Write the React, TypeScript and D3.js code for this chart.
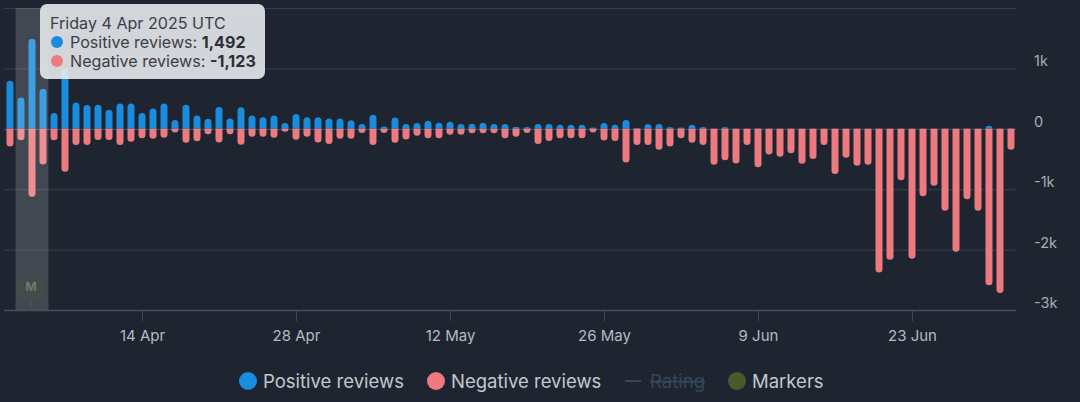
import { useEffect, useRef } from "react";
import * as d3 from "d3";

const startDate = "2025-04-02";

// one value per day, 2 Apr to 2 Jul 2025
const positiveReviews = [
  795, 520, 1492, 665, 260, 1000, 436, 392, 400, 315, 420, 420, 260, 337, 420, 145, 400, 220, 165, 360,
  170, 355, 220, 190, 220, 95, 245, 190, 190, 170, 170, 140, 80, 232, 40, 188, 78, 95, 133, 100,
  116, 78, 85, 100, 78, 78, 33, 30, 78, 78, 65, 65, 65, 20, 95, 65, 145, 15, 78, 78,
  30, 20, 65, 30, 5, 30, 5, 5, 10, 5, 5, 5, 5, 5, 5, 5, 5, 5, 5, 5,
  5, 5, 5, 5, 5, 5, 5, 5, 5, 50, 5, 10,
];
const negativeReviews = [
  -293, -190, -1123, -590, -190, -710, -270, -270, -185, -185, -270, -215, -155, -165, -150, -60, -230, -205, -90, -225,
  -90, -265, -130, -130, -150, -50, -180, -130, -225, -250, -165, -165, -70, -270, -70, -232, -177, -116, -155, -155,
  -100, -100, -75, -75, -75, -155, -133, -70, -253, -200, -155, -155, -155, -60, -193, -200, -558, -270, -270, -348,
  -293, -155, -232, -270, -596, -519, -574, -270, -635, -425, -464, -403, -580, -502, -270, -750, -480, -613, -596, -2380,
  -2170, -850, -2152, -1115, -944, -1358, -2036, -1165, -1358, -2590, -2720, -348,
];

const yTicks = [1000, 0, -1000, -2000, -3000];
const gridValues = [2000, 1000, 0, -1000, -2000];
const xTickDates = ["2025-04-14", "2025-04-28", "2025-05-12", "2025-05-26", "2025-06-09", "2025-06-23"];
const hoveredDate = "2025-04-04";
const tooltipTitle = "Friday 4 Apr 2025 UTC";
const tooltipRows = [
  { label: "Positive reviews: ", value: "1,492", color: "#1a8cdd" },
  { label: "Negative reviews: ", value: "-1,123", color: "#ec7a7e" },
];

const legendItems = [
  { label: "Positive reviews", kind: "dot", color: "#1a8cdd", x: 248 },
  { label: "Negative reviews", kind: "dot", color: "#ec7a7e", x: 436 },
  { label: "Rating", kind: "line", color: "#35465a", x: 633 },
  { label: "Markers", kind: "dot", color: "#4a5a2e", x: 737 },
];

const FONT = "Inter, 'Noto Sans', sans-serif";
const BG = "#1e2530";
const width = 1080;
const height = 402;

const day = (s: string) => new Date(s + "T00:00:00Z");

export default function App() {
  const svgRef = useRef<SVGSVGElement>(null);

  useEffect(() => {
    if (!svgRef.current) return;
    const svg = d3.select(svgRef.current);
    svg.selectAll("*").remove();

    const dates = d3.utcDay.range(day(startDate), d3.utcDay.offset(day(startDate), positiveReviews.length));

    // 11px per day, 14 Apr sits at x=142
    const x = d3
      .scaleUtc()
      .domain([day("2025-04-14"), day("2025-06-23")])
      .range([142, 912]);
    const y = d3.scaleLinear().domain([2000, -3000]).range([8, 310]);
    const barW = 7;

    svg.append("rect").attr("width", width).attr("height", height).attr("fill", BG);

    // Grid lines
    svg
      .append("g")
      .selectAll("line")
      .data(gridValues)
      .enter()
      .append("line")
      .attr("x1", 4)
      .attr("x2", 1016)
      .attr("y1", (d) => y(d) + 0.5)
      .attr("y2", (d) => y(d) + 0.5)
      .attr("stroke", "#353f4c")
      .attr("stroke-width", 1);

    // Bars, rounded only at the end away from zero
    const barPath = (cx: number, v: number) => {
      const y0 = y(0);
      const y1 = y(v);
      const dir = v >= 0 ? -1 : 1;
      const r = Math.min(barW / 2, Math.abs(y1 - y0));
      const p = d3.path();
      p.moveTo(cx - barW / 2, y0);
      p.lineTo(cx - barW / 2, y1 - dir * r);
      p.quadraticCurveTo(cx - barW / 2, y1, cx, y1);
      p.quadraticCurveTo(cx + barW / 2, y1, cx + barW / 2, y1 - dir * r);
      p.lineTo(cx + barW / 2, y0);
      p.closePath();
      return p.toString();
    };

    svg
      .append("g")
      .selectAll("path")
      .data(dates)
      .enter()
      .append("path")
      .attr("fill", "#1a8cdd")
      .attr("d", (d, i) => barPath(x(d), positiveReviews[i]));

    svg
      .append("g")
      .selectAll("path")
      .data(dates)
      .enter()
      .append("path")
      .attr("fill", "#ec7a7e")
      .attr("d", (d, i) => barPath(x(d), negativeReviews[i]));

    // Thin zero line shows over the bars
    svg
      .append("line")
      .attr("x1", 4)
      .attr("x2", 1016)
      .attr("y1", y(0) + 0.5)
      .attr("y2", y(0) + 0.5)
      .attr("stroke", "#c9b9c0")
      .attr("stroke-opacity", 0.15);

    // Hover band
    const hx = x(day(hoveredDate));
    svg
      .append("rect")
      .attr("x", hx - 16.5)
      .attr("y", y(2000))
      .attr("width", 33)
      .attr("height", y(-3000) - y(2000))
      .attr("fill", "#ffffff")
      .attr("fill-opacity", 0.16);

    // Marker flag
    const marker = svg.append("g").attr("transform", `translate(${hx - 1},287)`);
    marker
      .append("line")
      .attr("y1", 12)
      .attr("y2", 23)
      .attr("stroke", "#5a6470")
      .attr("stroke-opacity", 0.6);
    marker
      .append("rect")
      .attr("x", -15)
      .attr("y", -13)
      .attr("width", 30)
      .attr("height", 26)
      .attr("rx", 9)
      .attr("fill", "#4f6130")
      .attr("fill-opacity", 0.2);
    marker
      .append("text")
      .attr("text-anchor", "middle")
      .attr("dy", "0.36em")
      .attr("font-family", FONT)
      .attr("font-size", 12)
      .attr("font-weight", 700)
      .attr("fill", "#6f7a74")
      .text("M");

    // X Axis
    const xAxis = svg
      .append("g")
      .attr("transform", "translate(0,310)")
      .call(
        d3
          .axisBottom(x)
          .tickValues(xTickDates.map(day))
          .tickSize(11)
          .tickSizeOuter(0)
          .tickPadding(9)
          .tickFormat((d) => d3.utcFormat("%-d %b")(d as Date))
      );
    xAxis.select(".domain").remove();
    xAxis.selectAll(".tick line").attr("stroke", "#3f4b5a");
    xAxis
      .selectAll("text")
      .attr("fill", "#b4bac2")
      .attr("font-family", FONT)
      .attr("font-size", 15);
    svg
      .append("line")
      .attr("x1", 4)
      .attr("x2", 1016)
      .attr("y1", 310.5)
      .attr("y2", 310.5)
      .attr("stroke", "#46525f")
      .attr("stroke-width", 1.5);

    // Y Axis labels
    svg
      .append("g")
      .selectAll("text")
      .data(yTicks)
      .enter()
      .append("text")
      .attr("x", 1034)
      .attr("y", (d) => y(d) - 7.2)
      .attr("dy", "0.36em")
      .attr("fill", "#a6adb6")
      .attr("font-family", FONT)
      .attr("font-size", 14.5)
      .text((d) => (d === 0 ? "0" : `${d / 1000}k`));

    // Tooltip
    const tip = svg.append("g").attr("transform", "translate(40,4)");
    tip
      .append("rect")
      .attr("width", 225)
      .attr("height", 75)
      .attr("rx", 7)
      .attr("fill", "#eceef0")
      .attr("fill-opacity", 0.88);
    tip
      .append("text")
      .attr("x", 10)
      .attr("y", 19)
      .attr("dy", "0.36em")
      .attr("font-family", FONT)
      .attr("font-size", 16.1)
      .attr("fill", "#3a3f47")
      .text(tooltipTitle);
    tooltipRows.forEach((row, i) => {
      const rowY = 38 + i * 19;
      tip.append("circle").attr("cx", 17).attr("cy", rowY).attr("r", 6).attr("fill", row.color);
      const t = tip
        .append("text")
        .attr("x", 30)
        .attr("y", rowY)
        .attr("dy", "0.36em")
        .attr("font-family", FONT)
        .attr("font-size", 16.1)
        .attr("fill", "#3a3f47");
      t.append("tspan").text(row.label);
      t.append("tspan").attr("font-weight", 700).attr("fill", "#2b2f36").text(row.value);
    });

    // Legend
    const legend = svg.append("g").attr("transform", "translate(0,381)");
    legendItems.forEach((item) => {
      if (item.kind === "dot") {
        legend.append("circle").attr("cx", item.x).attr("r", 9).attr("fill", item.color);
      } else {
        legend
          .append("line")
          .attr("x1", item.x - 8)
          .attr("x2", item.x + 8)
          .attr("stroke", item.color)
          .attr("stroke-width", 2);
      }
      const hidden = item.kind === "line";
      legend
        .append("text")
        .attr("x", hidden ? item.x + 17 : item.x + 15)
        .attr("dy", "0.36em")
        .attr("font-family", FONT)
        .attr("font-size", 18.5)
        .attr("fill", hidden ? "#35465a" : "#c3c8ce")
        .attr("text-decoration", hidden ? "line-through" : null)
        .text(item.label);
    });
  }, []);

  return (
    <svg
      ref={svgRef}
      width={width}
      height={height}
      style={{ position: "absolute", left: 0, top: 0, display: "block" }}
    />
  );
}
